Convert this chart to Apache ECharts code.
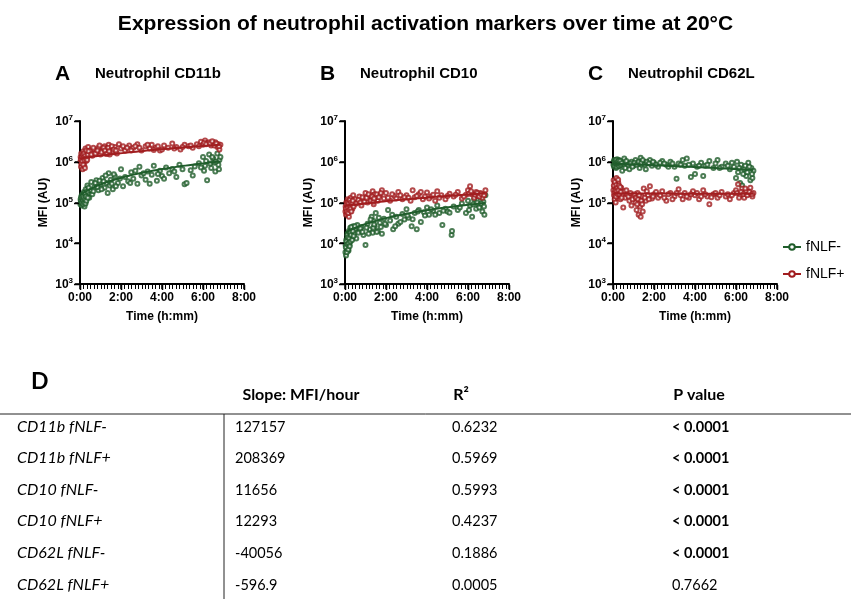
<!DOCTYPE html>
<html>
<head>
<meta charset="utf-8">
<script src="https://cdn.jsdelivr.net/npm/echarts@6.0.0/dist/echarts.min.js"></script>
<style>
  html, body { margin: 0; padding: 0; background: #fff; }
  #chart { width: 851px; height: 599px; }
</style>
</head>
<body>
<div id="chart"></div>
<script>
// scatter points: [time in hours, MFI]
const cd11bNeg = [[0.02,9.0e4],[0.03,1.2e5],[0.05,1.0e5],[0.06,1.4e5],[0.08,8.5e4],[0.1,1.1e5],[0.11,1.6e5],[0.13,9.5e4],[0.15,1.25e5],[0.17,1.05e5],[0.19,1.8e5],[0.2,1.15e5],[0.22,8e4],[0.24,1.35e5],[0.26,1.0e5],[0.28,2.1e5],[0.3,1.2e5],[0.33,1.5e5],[0.36,2.6e5],[0.4,1.7e5],[0.45,1.3e5],[0.5,2.0e5],[0.55,3.2e5],[0.6,1.6e5],[0.7,2.4e5],[0.8,3.5e5],[0.9,2.0e5],[1.0,2.8e5],[1.1,4.0e5],[1.2,2.3e5],[1.3,3.0e5],[1.35,1.7e5],[1.4,5.2e5],[1.45,2.6e5],[1.5,3.6e5],[1.6,2.1e5],[1.7,4.4e5],[1.85,3.0e5],[2.0,6.5e5],[2.1,2.5e5],[2.2,4.2e5],[2.35,3.3e5],[2.5,5.5e5],[2.6,3.8e5],[2.8,2.9e5],[2.9,7.5e5],[3.0,4.6e5],[3.2,3.6e5],[3.3,5.8e5],[3.5,4.8e5],[3.6,8.0e5],[3.75,3.4e5],[3.9,6.0e5],[4.0,4.5e5],[4.2,7.2e5],[4.35,5.2e5],[4.5,6.6e5],[4.7,4.2e5],[4.85,8.5e5],[5.1,2.8e5],[5.2,3.0e5],[5.4,6.2e5],[5.6,7.6e5],[5.8,9.2e5],[6.0,1.3e6],[6.1,8.0e5],[6.15,1.05e6],[6.2,3.5e5],[6.3,1.5e6],[6.4,7.0e5],[6.5,1.2e6],[6.55,9.5e5],[6.6,5.8e5],[6.7,1.6e6],[6.75,8.5e5],[6.8,1.1e6],[6.85,1.3e6],
    [0.04,1.1e5],[0.07,1.3e5],[0.09,9.8e4],[0.12,1.45e5],[0.14,1.15e5],[0.16,9e4],[0.18,1.3e5],[0.21,1.0e5],[0.23,1.7e5],[0.25,1.2e5],[0.27,9.5e4],[0.29,1.4e5],[0.31,1.1e5],[0.35,1.9e5],[0.38,1.3e5],[0.42,2.3e5],[0.65,1.9e5],[0.75,3.0e5],[0.85,2.4e5],[0.95,3.4e5],[1.05,2.1e5],[1.15,3.3e5],[1.25,4.6e5],[1.55,2.9e5],[1.65,4.9e5],[1.75,2.5e5],[1.95,3.9e5],[2.45,3.0e5],[2.7,6.0e5],[3.1,5.2e5],[3.4,2.9e5],[3.8,5.0e5],[4.1,3.8e5],[4.6,5.8e5],[5.0,6.5e5],[5.5,4.6e5],[5.9,7.2e5],[6.05,6.0e5],[6.35,9.0e5],[6.45,1.3e6],[6.62,1.0e6],[6.78,6.5e5]];
const cd11bPos = [[0.02,1.0e6],[0.03,1.3e6],[0.05,7.5e5],[0.06,1.6e6],[0.08,1.1e6],[0.1,9e5],[0.12,1.4e6],[0.13,6.5e5],[0.15,1.2e6],[0.17,1.8e6],[0.19,1.0e6],[0.21,8e5],[0.23,1.5e6],[0.25,1.25e6],[0.27,2.1e6],[0.3,1.05e6],[0.33,1.7e6],[0.36,1.3e6],[0.4,2.3e6],[0.45,1.6e6],[0.5,1.9e6],[0.6,1.4e6],[0.7,2.0e6],[0.8,1.7e6],[0.9,2.2e6],[1.0,1.5e6],[1.1,1.9e6],[1.2,2.4e6],[1.25,1.6e6],[1.3,2.1e6],[1.35,1.75e6],[1.4,2.6e6],[1.45,1.5e6],[1.5,2.0e6],[1.6,1.8e6],[1.7,2.3e6],[1.8,1.6e6],[1.9,2.7e6],[2.0,2.1e6],[2.2,1.9e6],[2.4,2.5e6],[2.6,2.2e6],[2.8,2.7e6],[3.0,1.9e6],[3.2,2.4e6],[3.4,2.1e6],[3.5,2.6e6],[3.7,2.2e6],[3.9,1.9e6],[4.1,2.5e6],[4.3,2.2e6],[4.5,2.8e6],[4.7,2.3e6],[4.9,2.0e6],[5.1,2.6e6],[5.3,2.4e6],[5.5,2.2e6],[5.7,2.7e6],[5.9,3.1e6],[6.0,2.6e6],[6.1,3.3e6],[6.2,2.9e6],[6.3,3.0e6],[6.4,2.5e6],[6.5,2.8e6],[6.6,3.0e6],[6.7,2.3e6],[6.75,2.7e6],[6.8,2.0e6],[6.85,2.6e6],
    [0.04,1.15e6],[0.07,9e5],[0.09,1.3e6],[0.11,1.05e6],[0.14,1.5e6],[0.16,8.5e5],[0.18,1.25e6],[0.2,1.6e6],[0.22,1.1e6],[0.24,7e5],[0.26,1.4e6],[0.29,1.2e6],[0.31,1.9e6],[0.35,1.1e6],[0.38,1.5e6],[0.42,1.8e6],[0.55,1.5e6],[0.65,2.2e6],[0.75,1.6e6],[0.85,1.9e6],[0.95,2.5e6],[1.05,1.7e6],[1.15,2.2e6],[1.22,1.9e6],[1.32,1.55e6],[1.38,2.2e6],[1.42,1.8e6],[1.55,2.4e6],[1.65,2.0e6],[1.75,1.9e6],[2.1,2.4e6],[2.3,2.2e6],[2.5,1.9e6],[2.7,2.4e6],[2.9,2.2e6],[3.3,2.6e6],[3.6,1.95e6],[3.8,2.4e6],[4.0,2.0e6],[4.6,2.1e6],[5.0,2.3e6],[5.4,2.5e6],[5.8,2.4e6],[6.05,2.9e6],[6.15,2.7e6],[6.35,2.8e6],[6.45,3.2e6],[6.55,2.5e6],[6.65,2.8e6],[6.78,2.4e6]];
const cd10Neg = [[0.02,6e3],[0.03,9e3],[0.05,5e3],[0.06,1.2e4],[0.08,7.5e3],[0.1,1.0e4],[0.11,1.6e4],[0.13,8e3],[0.15,1.3e4],[0.17,6.5e3],[0.19,2.0e4],[0.2,1.1e4],[0.22,9e3],[0.24,1.5e4],[0.26,2.4e4],[0.28,1.2e4],[0.3,1.8e4],[0.33,2.2e4],[0.36,1.4e4],[0.4,2.6e4],[0.45,1.7e4],[0.5,2.3e4],[0.55,1.3e4],[0.6,2.8e4],[0.7,2.0e4],[0.8,2.5e4],[0.9,1.6e4],[1.0,9e3],[1.1,3.0e4],[1.2,2.2e4],[1.3,4.5e4],[1.35,1.8e4],[1.4,3.5e4],[1.45,2.6e4],[1.5,5.5e4],[1.6,2.0e4],[1.7,3.2e4],[1.8,1.7e4],[1.9,4.0e4],[2.0,2.8e4],[2.1,6.5e4],[2.2,3.6e4],[2.35,2.2e4],[2.5,4.5e4],[2.6,3.0e4],[2.8,5.2e4],[2.9,3.8e4],[3.0,6.8e4],[3.1,4.2e4],[3.25,2.6e4],[3.4,5.5e4],[3.5,2.2e4],[3.6,6.5e4],[3.7,3.3e4],[3.85,5.8e4],[4.0,7.5e4],[4.1,5.0e4],[4.3,6.2e4],[4.5,8.5e4],[4.6,5.5e4],[4.75,2.8e4],[4.9,7.0e4],[5.0,6.0e4],[5.2,1.6e4],[5.22,2.0e4],[5.3,8.0e4],[5.5,6.5e4],[5.7,9.5e4],[5.9,5.5e4],[6.0,1.1e5],[6.1,8.5e4],[6.2,4.5e4],[6.3,1.2e5],[6.4,7.0e4],[6.5,9.0e4],[6.6,1.3e5],[6.7,6.0e4],[6.75,1.05e5],[6.8,5.0e4],[6.85,1.5e5],
    [0.04,8e3],[0.07,1.1e4],[0.09,6e3],[0.12,9.5e3],[0.14,1.4e4],[0.16,7e3],[0.18,1.0e4],[0.21,1.3e4],[0.23,8.5e3],[0.25,1.9e4],[0.27,1.1e4],[0.29,1.6e4],[0.31,2.5e4],[0.35,1.2e4],[0.38,2.0e4],[0.42,1.5e4],[0.48,2.6e4],[0.65,1.8e4],[0.75,2.3e4],[0.85,1.9e4],[1.05,2.4e4],[1.15,1.7e4],[1.25,3.8e4],[1.38,2.4e4],[1.42,2.9e4],[1.55,1.9e4],[1.65,4.2e4],[1.75,2.5e4],[1.95,3.0e4],[2.3,5.0e4],[2.45,2.6e4],[2.7,3.3e4],[3.05,4.8e4],[3.3,3.9e4],[3.55,6.0e4],[3.9,4.8e4],[4.2,6.8e4],[4.4,5.0e4],[4.8,6.3e4],[5.1,5.6e4],[5.6,7.5e4],[6.05,6.5e4],[6.25,9.0e4],[6.45,1.0e5],[6.55,7.5e4],[6.65,9.5e4],[6.78,8.0e4]];
const cd10Pos = [[0.02,6e4],[0.03,8e4],[0.05,5e4],[0.06,1.0e5],[0.08,7e4],[0.1,5.5e4],[0.11,9e4],[0.13,1.2e5],[0.15,6.5e4],[0.17,8.5e4],[0.19,4.5e4],[0.2,1.1e5],[0.22,7.5e4],[0.24,9.5e4],[0.26,6e4],[0.28,1.3e5],[0.3,8e4],[0.33,1.05e5],[0.36,7e4],[0.4,1.5e5],[0.45,9e4],[0.5,1.2e5],[0.6,1.0e5],[0.7,1.4e5],[0.8,8.5e4],[0.9,1.25e5],[1.0,1.7e5],[1.1,1.0e5],[1.2,1.45e5],[1.3,1.2e5],[1.35,1.9e5],[1.4,9e4],[1.45,1.6e5],[1.5,1.3e5],[1.6,1.1e5],[1.7,1.5e5],[1.8,2.0e5],[1.9,1.25e5],[2.0,1.7e5],[2.2,1.1e5],[2.4,1.45e5],[2.6,1.8e5],[2.8,1.2e5],[3.0,1.5e5],[3.2,1.1e5],[3.3,2.0e5],[3.4,1.35e5],[3.6,1.6e5],[3.8,1.2e5],[4.0,1.75e5],[4.2,1.4e5],[4.4,1.1e5],[4.5,1.9e5],[4.7,1.5e5],[4.9,1.2e5],[5.1,1.65e5],[5.3,1.4e5],[5.5,1.8e5],[5.7,1.25e5],[5.9,1.55e5],[6.0,2.0e5],[6.1,2.5e5],[6.2,1.6e5],[6.3,1.3e5],[6.4,1.8e5],[6.5,1.45e5],[6.6,1.7e5],[6.7,1.3e5],[6.8,1.6e5],[6.85,2.0e5],
    [0.04,7e4],[0.07,9e4],[0.09,6e4],[0.12,1.0e5],[0.14,7.5e4],[0.16,5.5e4],[0.18,9.5e4],[0.21,6.5e4],[0.23,1.15e5],[0.25,8e4],[0.27,7e4],[0.29,1.0e5],[0.31,6e4],[0.35,9e4],[0.38,1.1e5],[0.42,8e4],[0.55,9.5e4],[0.65,1.15e5],[0.75,1.0e5],[0.85,1.35e5],[0.95,1.05e5],[1.05,1.3e5],[1.15,1.6e5],[1.25,1.1e5],[1.32,1.4e5],[1.38,1.05e5],[1.42,1.25e5],[1.55,1.6e5],[1.65,1.35e5],[1.75,1.7e5],[2.1,1.3e5],[2.3,1.6e5],[2.5,1.25e5],[2.7,1.5e5],[2.9,1.35e5],[3.1,1.3e5],[3.5,1.45e5],[3.7,1.8e5],[3.9,1.4e5],[4.1,1.25e5],[4.3,1.55e5],[4.6,1.3e5],[5.0,1.45e5],[5.4,1.55e5],[5.8,1.4e5],[6.05,1.65e5],[6.15,1.9e5],[6.35,1.55e5],[6.45,1.7e5],[6.55,1.4e5],[6.65,1.6e5],[6.78,1.5e5]];
const cd62lNeg = [[0.02,8.5e5],[0.03,1.0e6],[0.05,7.5e5],[0.06,1.1e6],[0.08,9e5],[0.1,8e5],[0.11,1.05e6],[0.13,9.5e5],[0.15,7e5],[0.17,1.0e6],[0.19,8.5e5],[0.2,1.15e6],[0.22,9e5],[0.24,7.8e5],[0.26,1.0e6],[0.28,9.2e5],[0.3,1.1e6],[0.33,8e5],[0.36,9.5e5],[0.4,1.0e6],[0.45,6.0e5],[0.5,8.5e5],[0.55,1.2e6],[0.6,7.0e5],[0.7,9.5e5],[0.8,6.5e5],[0.9,1.0e6],[1.0,8.0e5],[1.1,1.1e6],[1.2,9.0e5],[1.3,7.0e5],[1.35,1.25e6],[1.4,8.5e5],[1.5,1.0e6],[1.6,6.5e5],[1.7,9.5e5],[1.8,1.1e6],[1.9,8.0e5],[2.0,9.5e5],[2.2,7.5e5],[2.4,1.05e6],[2.6,8.5e5],[2.8,1.0e6],[3.0,7.5e5],[3.1,3.8e5],[3.2,9.0e5],[3.4,1.1e6],[3.5,8.0e5],[3.6,1.2e6],[3.8,4.2e5],[3.9,9.0e5],[4.0,5.0e5],[4.1,7.5e5],[4.3,9.5e5],[4.5,8.0e5],[4.7,1.05e6],[4.9,7.0e5],[5.1,1.1e6],[5.3,7.5e5],[5.5,9.0e5],[5.7,6.5e5],[5.9,7.5e5],[6.0,4.0e5],[6.05,1.0e6],[6.1,5.5e5],[6.2,3.0e5],[6.25,8.5e5],[6.3,2.6e5],[6.4,6.5e5],[6.5,4.5e5],[6.6,9.5e5],[6.7,3.5e5],[6.75,7.0e5],[6.8,4.0e5],[6.85,6.0e5],
    [0.04,9.5e5],[0.07,8e5],[0.09,1.0e6],[0.12,8.8e5],[0.14,1.1e6],[0.16,9.2e5],[0.18,7.5e5],[0.21,1.0e6],[0.23,8.5e5],[0.25,9.5e5],[0.27,1.05e6],[0.29,8e5],[0.31,9e5],[0.35,1.05e6],[0.38,8.5e5],[0.42,9.2e5],[0.65,1.05e6],[0.75,8.5e5],[0.85,9.0e5],[0.95,7.5e5],[1.05,9.5e5],[1.15,8.5e5],[1.25,1.0e6],[1.38,9.5e5],[1.45,1.1e6],[1.55,8.5e5],[1.65,1.0e6],[1.75,9.0e5],[1.95,1.0e6],[2.1,8.5e5],[2.3,9.5e5],[2.5,9.0e5],[2.7,7.5e5],[2.9,9.0e5],[3.3,8.5e5],[3.7,8.5e5],[4.2,8.0e5],[4.4,4.5e5],[4.6,8.5e5],[5.0,9.0e5],[5.2,7.0e5],[5.6,8.0e5],[5.8,9.5e5],[6.15,7.0e5],[6.35,5.0e5],[6.45,8.0e5],[6.55,5.5e5],[6.65,7.5e5],[6.78,5.0e5]];
const cd62lPos = [[0.02,2.0e5],[0.03,3.5e5],[0.05,1.5e5],[0.06,2.5e5],[0.08,1.2e5],[0.1,2.8e5],[0.11,1.8e5],[0.13,1.0e5],[0.15,2.2e5],[0.17,4.0e5],[0.19,1.6e5],[0.2,2.4e5],[0.22,1.3e5],[0.24,1.9e5],[0.26,3.0e5],[0.28,1.45e5],[0.3,2.1e5],[0.33,1.7e5],[0.36,1.2e5],[0.4,2.3e5],[0.45,1.5e5],[0.5,7.5e4],[0.55,1.9e5],[0.6,1.3e5],[0.7,1.6e5],[0.8,1.1e5],[0.9,8.5e4],[1.0,1.45e5],[1.1,1.0e5],[1.15,6.5e4],[1.2,1.7e5],[1.25,5.0e4],[1.3,1.2e5],[1.32,8.0e4],[1.35,4.5e4],[1.4,1.4e5],[1.45,6.0e4],[1.5,2.2e5],[1.6,1.1e5],[1.7,1.5e5],[1.8,2.5e5],[1.9,1.25e5],[2.0,1.6e5],[2.2,1.3e5],[2.4,1.9e5],[2.6,1.1e5],[2.8,1.7e5],[3.0,1.4e5],[3.2,2.1e5],[3.4,1.2e5],[3.5,1.7e5],[3.7,1.3e5],[3.9,1.9e5],[4.0,1.5e5],[4.2,1.2e5],[4.4,2.0e5],[4.6,1.4e5],[4.7,9.0e4],[4.9,1.6e5],[5.1,1.3e5],[5.3,1.8e5],[5.5,1.4e5],[5.7,1.2e5],[5.9,1.7e5],[6.0,2.0e5],[6.1,2.8e5],[6.2,1.5e5],[6.3,2.2e5],[6.4,1.3e5],[6.5,1.9e5],[6.6,1.6e5],[6.7,2.3e5],[6.8,1.4e5],[6.85,1.7e5],
    [0.04,2.6e5],[0.07,1.7e5],[0.09,3.2e5],[0.12,2.0e5],[0.14,1.4e5],[0.16,2.7e5],[0.18,1.9e5],[0.21,2.3e5],[0.23,1.6e5],[0.25,3.6e5],[0.27,2.0e5],[0.29,2.6e5],[0.31,1.6e5],[0.35,2.4e5],[0.38,1.8e5],[0.42,1.3e5],[0.65,2.0e5],[0.75,1.4e5],[0.85,1.7e5],[0.95,1.2e5],[1.05,1.6e5],[1.12,1.3e5],[1.18,9e4],[1.22,1.2e5],[1.28,1.5e5],[1.38,1.1e5],[1.42,9e4],[1.55,1.3e5],[1.65,1.9e5],[1.75,1.2e5],[1.95,1.4e5],[2.1,1.8e5],[2.3,1.5e5],[2.5,1.3e5],[2.7,1.6e5],[2.9,1.2e5],[3.1,1.7e5],[3.3,1.5e5],[3.6,1.4e5],[3.8,1.6e5],[4.1,1.7e5],[4.3,1.4e5],[4.5,1.6e5],[4.8,1.35e5],[5.0,1.7e5],[5.2,1.5e5],[5.6,1.6e5],[5.8,1.5e5],[6.05,1.7e5],[6.15,1.3e5],[6.25,1.8e5],[6.35,1.6e5],[6.45,2.2e5],[6.55,1.5e5],[6.65,1.8e5],[6.78,1.6e5]];

// table D
const rowLabels = ['CD11b fNLF-', 'CD11b fNLF+', 'CD10 fNLF-', 'CD10 fNLF+', 'CD62L fNLF-', 'CD62L fNLF+'];
const slopes = [127157, 208369, 11656, 12293, -40056, -596.9];
const r2s = ['0.6232', '0.5969', '0.5993', '0.4237', '0.1886', '0.0005'];
const pValues = ['< 0.0001', '< 0.0001', '< 0.0001', '< 0.0001', '< 0.0001', '0.7662'];
// fit line intercepts at t=0, slopes from table
const intercepts = [1.5e5, 1.2e6, 1.8e4, 8.3e4, 9.0e5, 1.67e5];
const fitEnd = 6.85;

const GREEN = '#1f5d2b';
const RED = '#a11d1f';
const GRID_TOP = 121, GRID_W = 164, GRID_H = 163;

const panels = [
    { letter: 'A', title: 'Neutrophil CD11b', neg: cd11bNeg, pos: cd11bPos, left: 80 },
    { letter: 'B', title: 'Neutrophil CD10', neg: cd10Neg, pos: cd10Pos, left: 345 },
    { letter: 'C', title: 'Neutrophil CD62L', neg: cd62lNeg, pos: cd62lPos, left: 613 }
];

function fitLine(k) {
    var pts = [];
    for (var i = 0; i <= 40; i++) {
        var t = fitEnd * i / 40;
        pts.push([t, intercepts[k] + slopes[k] * t]);
    }
    return pts;
}

var grid = [], xAxis = [], yAxis = [], series = [], graphic = [];

panels.forEach(function (p, i) {
    grid.push({ left: p.left, top: GRID_TOP, width: GRID_W, height: GRID_H });
    xAxis.push({
        type: 'value', gridIndex: i, min: 0, max: 8, interval: 2,
        name: 'Time (h:mm)', nameLocation: 'middle', nameGap: 27,
        nameTextStyle: { fontFamily: 'Liberation Sans', fontWeight: 'bold', fontSize: 12, color: '#000' },
        axisLine: { show: true, lineStyle: { color: '#000', width: 2 } },
        axisTick: { show: true, length: 5, lineStyle: { color: '#000', width: 1.5 } },
        splitLine: { show: false },
        axisLabel: {
            formatter: function (v) { return v + ':00'; },
            fontFamily: 'Liberation Sans', fontWeight: 'bold', fontSize: 12, color: '#000', margin: 8
        },
        z: 5
    });
    yAxis.push({
        type: 'log', logBase: 10, gridIndex: i, min: 1e3, max: 1e7,
        name: 'MFI (AU)', nameLocation: 'middle', nameGap: 30,
        nameTextStyle: { fontFamily: 'Liberation Sans', fontWeight: 'bold', fontSize: 12, color: '#000' },
        axisLine: { show: true, lineStyle: { color: '#000', width: 2 } },
        axisTick: { show: true, length: 5, lineStyle: { color: '#000', width: 1.5 } },
        splitLine: { show: false },
        axisLabel: {
            formatter: function (v) { return '{b|10}{s|' + Math.round(Math.log10(v)) + '}'; },
            margin: 7,
            rich: {
                b: { fontFamily: 'Liberation Sans', fontWeight: 'bold', fontSize: 12, color: '#000', lineHeight: 14, verticalAlign: 'bottom' },
                s: { fontFamily: 'Liberation Sans', fontWeight: 'bold', fontSize: 8, color: '#000', lineHeight: 14, verticalAlign: 'top', padding: [0, 0, 6, 0] }
            }
        }
    });
    [[p.neg, GREEN, 'fNLF-', 2 * i], [p.pos, RED, 'fNLF+', 2 * i + 1]].forEach(function (s) {
        series.push({
            name: s[2] + ' points', type: 'scatter', xAxisIndex: i, yAxisIndex: i,
            data: s[0], symbol: 'emptyCircle', symbolSize: 4,
            itemStyle: { color: s[1], borderWidth: 1 }, silent: true
        });
        series.push({
            name: s[2], type: 'line', xAxisIndex: i, yAxisIndex: i,
            data: fitLine(s[3]), showSymbol: false, symbol: 'emptyCircle', symbolSize: 4,
            lineStyle: { color: s[1], width: 2 }, itemStyle: { color: s[1] }, z: 3, silent: true
        });
    });
    graphic.push({ type: 'text', left: p.left - 25, top: 64,
        style: { text: p.letter, font: 'bold 21px "Liberation Sans"', fill: '#000' } });
    graphic.push({ type: 'text', left: p.left + 15, top: 66,
        style: { text: p.title, font: 'bold 15px "Liberation Sans"', fill: '#000' } });

    // axis decoration: 10-minute ticks under the time axis, decade ticks on the MFI axis
    var baseY = GRID_TOP + GRID_H;
    for (var m = 0; m <= 48; m++) {
        var tx = Math.round(p.left + GRID_W * m / 48) + 0.5;
        var major = (m % 12 === 0);
        graphic.push({ type: 'line', silent: true, z: 100,
            shape: { x1: tx, y1: baseY + 1, x2: tx, y2: baseY + (major ? 6 : 5) },
            style: { stroke: '#000', lineWidth: major ? 1.5 : 1 } });
    }
    for (var d = 0; d <= 4; d++) {
        var ty = Math.round(GRID_TOP + GRID_H * d / 4) + 0.5;
        graphic.push({ type: 'line', silent: true, z: 100,
            shape: { x1: p.left - 6, y1: ty, x2: p.left - 1, y2: ty },
            style: { stroke: '#000', lineWidth: 1.5 } });
    }
});

// table
var numFont = '14.5px Lato, "Liberation Sans", sans-serif';
var rowY = [427, 458, 490, 521, 553, 585];
graphic.push({ type: 'text', left: 31, top: 370, style: { text: 'D', font: 'bold 23px Lato', fill: '#000' } });
graphic.push({ type: 'text', x: 301, y: 395, style: { text: 'Slope: MFI/hour', font: 'bold 16px Lato', fill: '#000', align: 'center', verticalAlign: 'middle' } });
graphic.push({ type: 'text', x: 461, y: 395, style: { text: 'R²', font: 'bold 16px Lato', fill: '#000', align: 'center', verticalAlign: 'middle' } });
graphic.push({ type: 'text', x: 699, y: 395, style: { text: 'P value', font: 'bold 16px Lato', fill: '#000', align: 'center', verticalAlign: 'middle' } });
graphic.push({ type: 'line', shape: { x1: 0, y1: 414, x2: 851, y2: 414 }, style: { stroke: '#222', lineWidth: 1 } });
graphic.push({ type: 'line', shape: { x1: 224, y1: 414, x2: 224, y2: 599 }, style: { stroke: '#222', lineWidth: 1 } });
rowLabels.forEach(function (lab, r) {
    var y = rowY[r];
    graphic.push({ type: 'text', x: 17, y: y, style: { text: lab, font: 'italic 16px Lato', fill: '#000', verticalAlign: 'middle' } });
    graphic.push({ type: 'text', x: 235, y: y, style: { text: String(slopes[r]), font: numFont, fill: '#000', verticalAlign: 'middle' } });
    graphic.push({ type: 'text', x: 452, y: y, style: { text: r2s[r], font: numFont, fill: '#000', verticalAlign: 'middle' } });
    graphic.push({ type: 'text', x: 672, y: y, style: { text: pValues[r], font: (pValues[r].charAt(0) === '<' ? 'bold ' : '') + numFont, fill: '#000', verticalAlign: 'middle' } });
});

var myChart = echarts.init(document.getElementById('chart'), null, { renderer: 'canvas' });
myChart.setOption({
    backgroundColor: '#fff',
    animation: false,
    title: {
        text: 'Expression of neutrophil activation markers over time at 20°C',
        left: 'center', top: 9,
        textStyle: { fontFamily: 'Liberation Sans', fontWeight: 'bold', fontSize: 21, color: '#000' }
    },
    legend: {
        data: ['fNLF-', 'fNLF+'], orient: 'vertical', left: 777, top: 235,
        itemWidth: 18, itemHeight: 7, itemGap: 13,
        textStyle: { fontFamily: 'Liberation Sans', fontSize: 14, color: '#000' }
    },
    grid: grid, xAxis: xAxis, yAxis: yAxis, series: series, graphic: graphic
});
</script>
</body>
</html>
